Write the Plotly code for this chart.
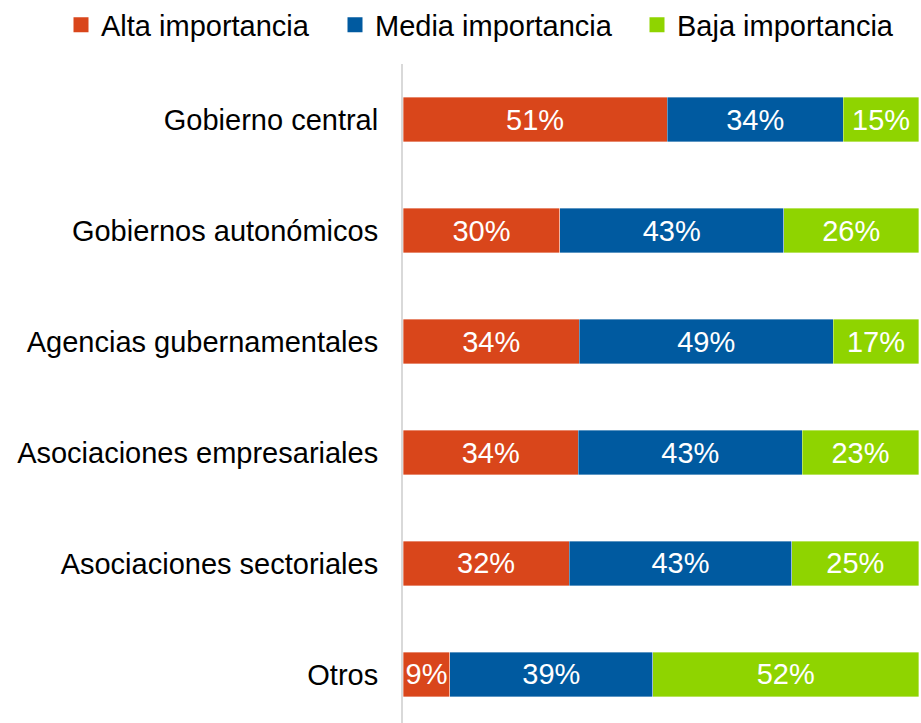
import plotly.graph_objects as go

categories = ["Gobierno central", "Gobiernos autonómicos", "Agencias gubernamentales",
              "Asociaciones empresariales", "Asociaciones sectoriales", "Otros"]
alta = [51.2, 30.4, 34.2, 34.0, 32.2, 9.1]
media = [34.2, 43.4, 49.2, 43.4, 43.2, 39.3]
baja = [14.6, 26.2, 16.6, 22.6, 24.6, 51.6]

series = [
    ("Alta importancia", alta, "#D9461B"),
    ("Media importancia", media, "#005AA0"),
    ("Baja importancia", baja, "#8FD400"),
]
legend_ids = ["legend", "legend2", "legend3"]
legend_left_px = [61, 335, 637]

FONT = "Liberation Sans, Arial, sans-serif"
FS = 29

W, H = 921, 723
L, T, R, B = 403, 64, 2, 0
plot_w = W - L - R
plot_h = H - T - B

fig = go.Figure()
for name, vals, color in series:
    fig.add_trace(go.Bar(
        y=categories, x=vals, name=name, orientation="h",
        showlegend=False,
        marker=dict(color=color, line=dict(color="rgba(255,255,255,0.6)", width=0.6)),
        texttemplate="%{x:.0f}%", textposition="inside", insidetextanchor="middle",
        textfont=dict(color="white", size=FS, family=FONT),
        constraintext="none", cliponaxis=False,
    ))
# legend entries with square swatches, one legend box per entry
for (name, vals, color), lid in zip(series, legend_ids):
    fig.add_trace(go.Scatter(
        x=[None], y=[None], mode="markers", name=name, legend=lid,
        marker=dict(symbol="square", size=15, color=color),
        showlegend=True, hoverinfo="skip",
    ))

legend_common = dict(orientation="h", xref="paper", yref="paper", xanchor="left",
                     y=1 + 39 / plot_h, yanchor="middle",
                     font=dict(size=FS, family=FONT, color="#000000"),
                     itemclick=False, itemdoubleclick=False,
                     bgcolor="rgba(0,0,0,0)")
legends = {lid: dict(legend_common, x=(px - L) / plot_w)
           for lid, px in zip(legend_ids, legend_left_px)}

fig.update_layout(
    width=W, height=H,
    barmode="stack", bargap=0.6,
    margin=dict(l=L, r=R, t=T, b=B, autoexpand=False),
    paper_bgcolor="white", plot_bgcolor="white",
    font=dict(family=FONT, size=FS, color="#000000"),
    showlegend=True,
    xaxis=dict(range=[0, 100.05], visible=False, showgrid=False, zeroline=False),
    yaxis=dict(categoryorder="array", categoryarray=categories,
               range=[5.437, -0.5], showline=True, linecolor="#D9D9D9", linewidth=2,
               showgrid=False, zeroline=False, ticks="", ticklabelstandoff=17,
               tickfont=dict(size=FS, family=FONT, color="#000000")),
    **legends,
)

fig.write_html("out.html", config={"displayModeBar": False},
               post_script="document.body.style.margin='0';document.body.style.overflow='hidden';")
